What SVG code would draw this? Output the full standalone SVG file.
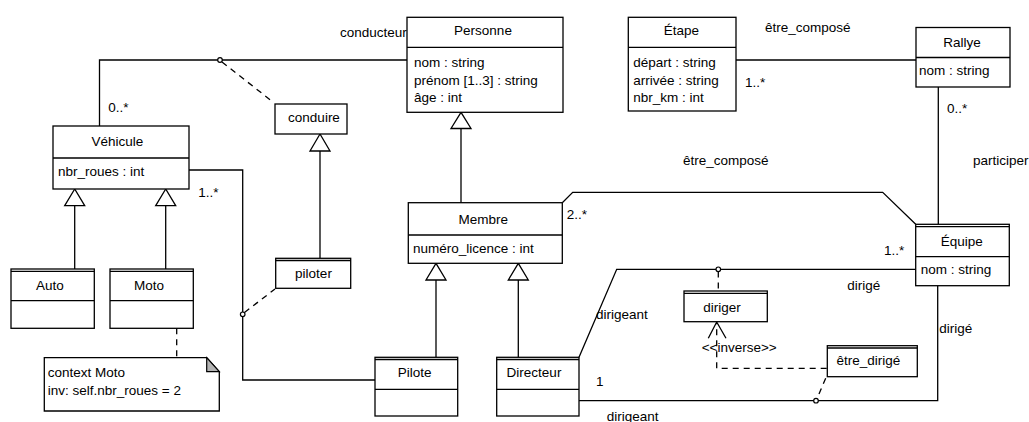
<svg xmlns="http://www.w3.org/2000/svg" width="1029" height="422" viewBox="0 0 1029 422">
<style>
text{font-family:"Liberation Sans",Arial,sans-serif;font-size:13.5px;fill:#000}
.c{text-anchor:middle}
.box{fill:#fff;stroke:#000;stroke-width:1.3}
.ln{fill:none;stroke:#000;stroke-width:1.3}
.ds{fill:none;stroke:#000;stroke-width:1.3;stroke-dasharray:6,5}
.tri{fill:#fff;stroke:#000;stroke-width:1.3}
.dot{fill:#fff;stroke:#000;stroke-width:1.2}
</style>
<g id="connectors">
<polyline class="ln" points="99.5,126 99.5,60 407,60"/>
<circle class="dot" cx="220" cy="60" r="2.3"/>
<line class="ds" x1="222" y1="62" x2="273" y2="102"/>
<polyline class="ln" points="189,170 242.7,170 242.7,380 375,380"/>
<circle class="dot" cx="242.7" cy="314.3" r="2.3"/>
<line class="ds" x1="244.5" y1="312.5" x2="275" y2="289"/>
<line class="ln" x1="74.7" y1="205.7" x2="74.7" y2="269"/>
<polygon class="tri" points="74.7,189 64.7,205.7 84.7,205.7"/>
<line class="ln" x1="165.7" y1="205.7" x2="165.7" y2="269"/>
<polygon class="tri" points="165.7,189 155.7,205.7 175.7,205.7"/>
<line class="ds" x1="176.7" y1="328.3" x2="176.7" y2="357.7"/>
<line class="ln" x1="320" y1="151" x2="320" y2="258"/>
<polygon class="tri" points="320,134 310,151 330,151"/>
<line class="ln" x1="461" y1="128.5" x2="461" y2="203"/>
<polygon class="tri" points="461,112.3 451,128.5 471,128.5"/>
<line class="ln" x1="436" y1="280" x2="436" y2="357.3"/>
<polygon class="tri" points="436,263.3 426,280 446,280"/>
<line class="ln" x1="518.3" y1="280" x2="518.3" y2="357.3"/>
<polygon class="tri" points="518.3,263.3 508.3,280 528.3,280"/>
<line class="ln" x1="736" y1="60" x2="916" y2="60"/>
<line class="ln" x1="938.3" y1="87" x2="938.3" y2="224.3"/>
<polyline class="ln" points="562.3,202.7 572.7,192.3 882.7,192.3 915.7,224.3"/>
<polyline class="ln" points="579,357.3 616.7,269.3 915.7,269.3"/>
<circle class="dot" cx="718.3" cy="269.3" r="2.3"/>
<line class="ds" x1="718.3" y1="271.6" x2="718.3" y2="291"/>
<polyline class="ln" points="579,400.7 937.7,400.7 937.7,285.7"/>
<circle class="dot" cx="816" cy="400.7" r="2.3"/>
<line class="ds" x1="825.7" y1="378.3" x2="817" y2="398.5"/>
<polyline class="ds" points="826.7,368.3 716.7,368.3 716.7,323"/>
<polyline class="ln" points="708.3,338.3 716.7,322 726,338.3"/>
</g>
<g id="vehicule">
<rect class="box" x="53" y="126" width="136" height="63"/>
<line class="ln" x1="53" y1="158" x2="189" y2="158"/>
<text class="c" x="117.5" y="146">Véhicule</text>
<text x="58" y="176">nbr_roues : int</text>
</g>
<g id="auto">
<rect class="box" x="11" y="269" width="83.3" height="59.3"/>
<line class="ln" x1="11" y1="271.3" x2="94.3" y2="271.3"/>
<line class="ln" x1="11" y1="300.7" x2="94.3" y2="300.7"/>
<text class="c" x="50" y="290">Auto</text>
</g>
<g id="moto">
<rect class="box" x="110" y="269" width="83.3" height="59.3"/>
<line class="ln" x1="110" y1="271.3" x2="193.3" y2="271.3"/>
<line class="ln" x1="110" y1="300.7" x2="193.3" y2="300.7"/>
<text class="c" x="149" y="290">Moto</text>
</g>
<g id="note">
<polygon class="box" points="44.3,357.7 206.7,357.7 219.3,371.7 219.3,411 44.3,411"/>
<polygon points="206.7,357.7 219.3,371.7 206.7,371.7" fill="#b3b3b3" stroke="#000" stroke-width="1.2"/>
<text x="47.7" y="376.7">context Moto</text>
<text x="47.7" y="395">inv: self.nbr_roues = 2</text>
</g>
<g id="conduire">
<rect class="box" x="275" y="104" width="72" height="30"/>
<text class="c" x="314" y="122.3">conduire</text>
</g>
<g id="piloter">
<rect class="box" x="275.7" y="258.3" width="75" height="30"/>
<line class="ln" x1="275.7" y1="260.5" x2="350.7" y2="260.5"/>
<text class="c" x="313.5" y="278.3">piloter</text>
</g>
<g id="personne">
<rect class="box" x="407" y="17.3" width="156" height="95"/>
<line class="ln" x1="407" y1="47.3" x2="563" y2="47.3"/>
<text class="c" x="483" y="35">Personne</text>
<text x="414" y="67">nom : string</text>
<text x="414" y="84.5">prénom [1..3] : string</text>
<text x="414" y="102">âge : int</text>
</g>
<g id="etape">
<rect class="box" x="628.3" y="17.3" width="107.7" height="93.7"/>
<line class="ln" x1="628.3" y1="47.3" x2="736" y2="47.3"/>
<text class="c" x="681.3" y="35">Étape</text>
<text x="633.3" y="67">départ : string</text>
<text x="633.3" y="84.5">arrivée : string</text>
<text x="633.3" y="101.5">nbr_km : int</text>
</g>
<g id="rallye">
<rect class="box" x="916" y="27.5" width="94" height="59.5"/>
<line class="ln" x1="916" y1="57.5" x2="1010" y2="57.5"/>
<text class="c" x="962" y="46.7">Rallye</text>
<text x="919" y="75">nom : string</text>
</g>
<g id="membre">
<rect class="box" x="408.3" y="202.7" width="154" height="60.6"/>
<line class="ln" x1="408.3" y1="235" x2="562.3" y2="235"/>
<text class="c" x="483.3" y="224">Membre</text>
<text x="413" y="253">numéro_licence : int</text>
</g>
<g id="pilote">
<rect class="box" x="375" y="357.3" width="82.7" height="58.7"/>
<line class="ln" x1="375" y1="359.5" x2="457.7" y2="359.5"/>
<line class="ln" x1="375" y1="389.3" x2="457.7" y2="389.3"/>
<text class="c" x="414.7" y="377.3">Pilote</text>
</g>
<g id="directeur">
<rect class="box" x="496.7" y="357.3" width="82.3" height="58.7"/>
<line class="ln" x1="496.7" y1="359.5" x2="579" y2="359.5"/>
<line class="ln" x1="496.7" y1="389.3" x2="579" y2="389.3"/>
<text class="c" x="534" y="377">Directeur</text>
</g>
<g id="equipe">
<rect class="box" x="915.7" y="224.3" width="93.6" height="61.4"/>
<line class="ln" x1="915.7" y1="226.6" x2="1009.3" y2="226.6"/>
<line class="ln" x1="915.7" y1="256.7" x2="1009.3" y2="256.7"/>
<text class="c" x="961.8" y="245.7">Équipe</text>
<text x="920.7" y="274">nom : string</text>
</g>
<g id="diriger">
<rect class="box" x="684" y="291" width="83.3" height="30.7"/>
<line class="ln" x1="684" y1="293.3" x2="767.3" y2="293.3"/>
<text class="c" x="722" y="311.7">diriger</text>
</g>
<g id="etre_dirige">
<rect class="box" x="827.3" y="345.7" width="90" height="31"/>
<line class="ln" x1="827.3" y1="348" x2="917.3" y2="348"/>
<text class="c" x="868.4" y="365">être_dirigé</text>
</g>
<g id="labels">
<text x="340" y="37.3">conducteur</text>
<text x="108.3" y="111.7">0..*</text>
<text x="198.3" y="196.7">1..*</text>
<text x="765" y="32">être_composé</text>
<text x="745" y="87">1..*</text>
<text x="947" y="113">0..*</text>
<text x="683" y="165">être_composé</text>
<text x="973" y="165">participer</text>
<text x="566.7" y="219.3">2..*</text>
<text x="884" y="255">1..*</text>
<text x="847.3" y="290">dirigé</text>
<text x="939.3" y="333.3">dirigé</text>
<text x="596" y="319.3">dirigeant</text>
<text x="596" y="386">1</text>
<text x="606.7" y="421">dirigeant</text>
<text x="701.7" y="351.7">&lt;&lt;inverse&gt;&gt;</text>
</g>
</svg>
